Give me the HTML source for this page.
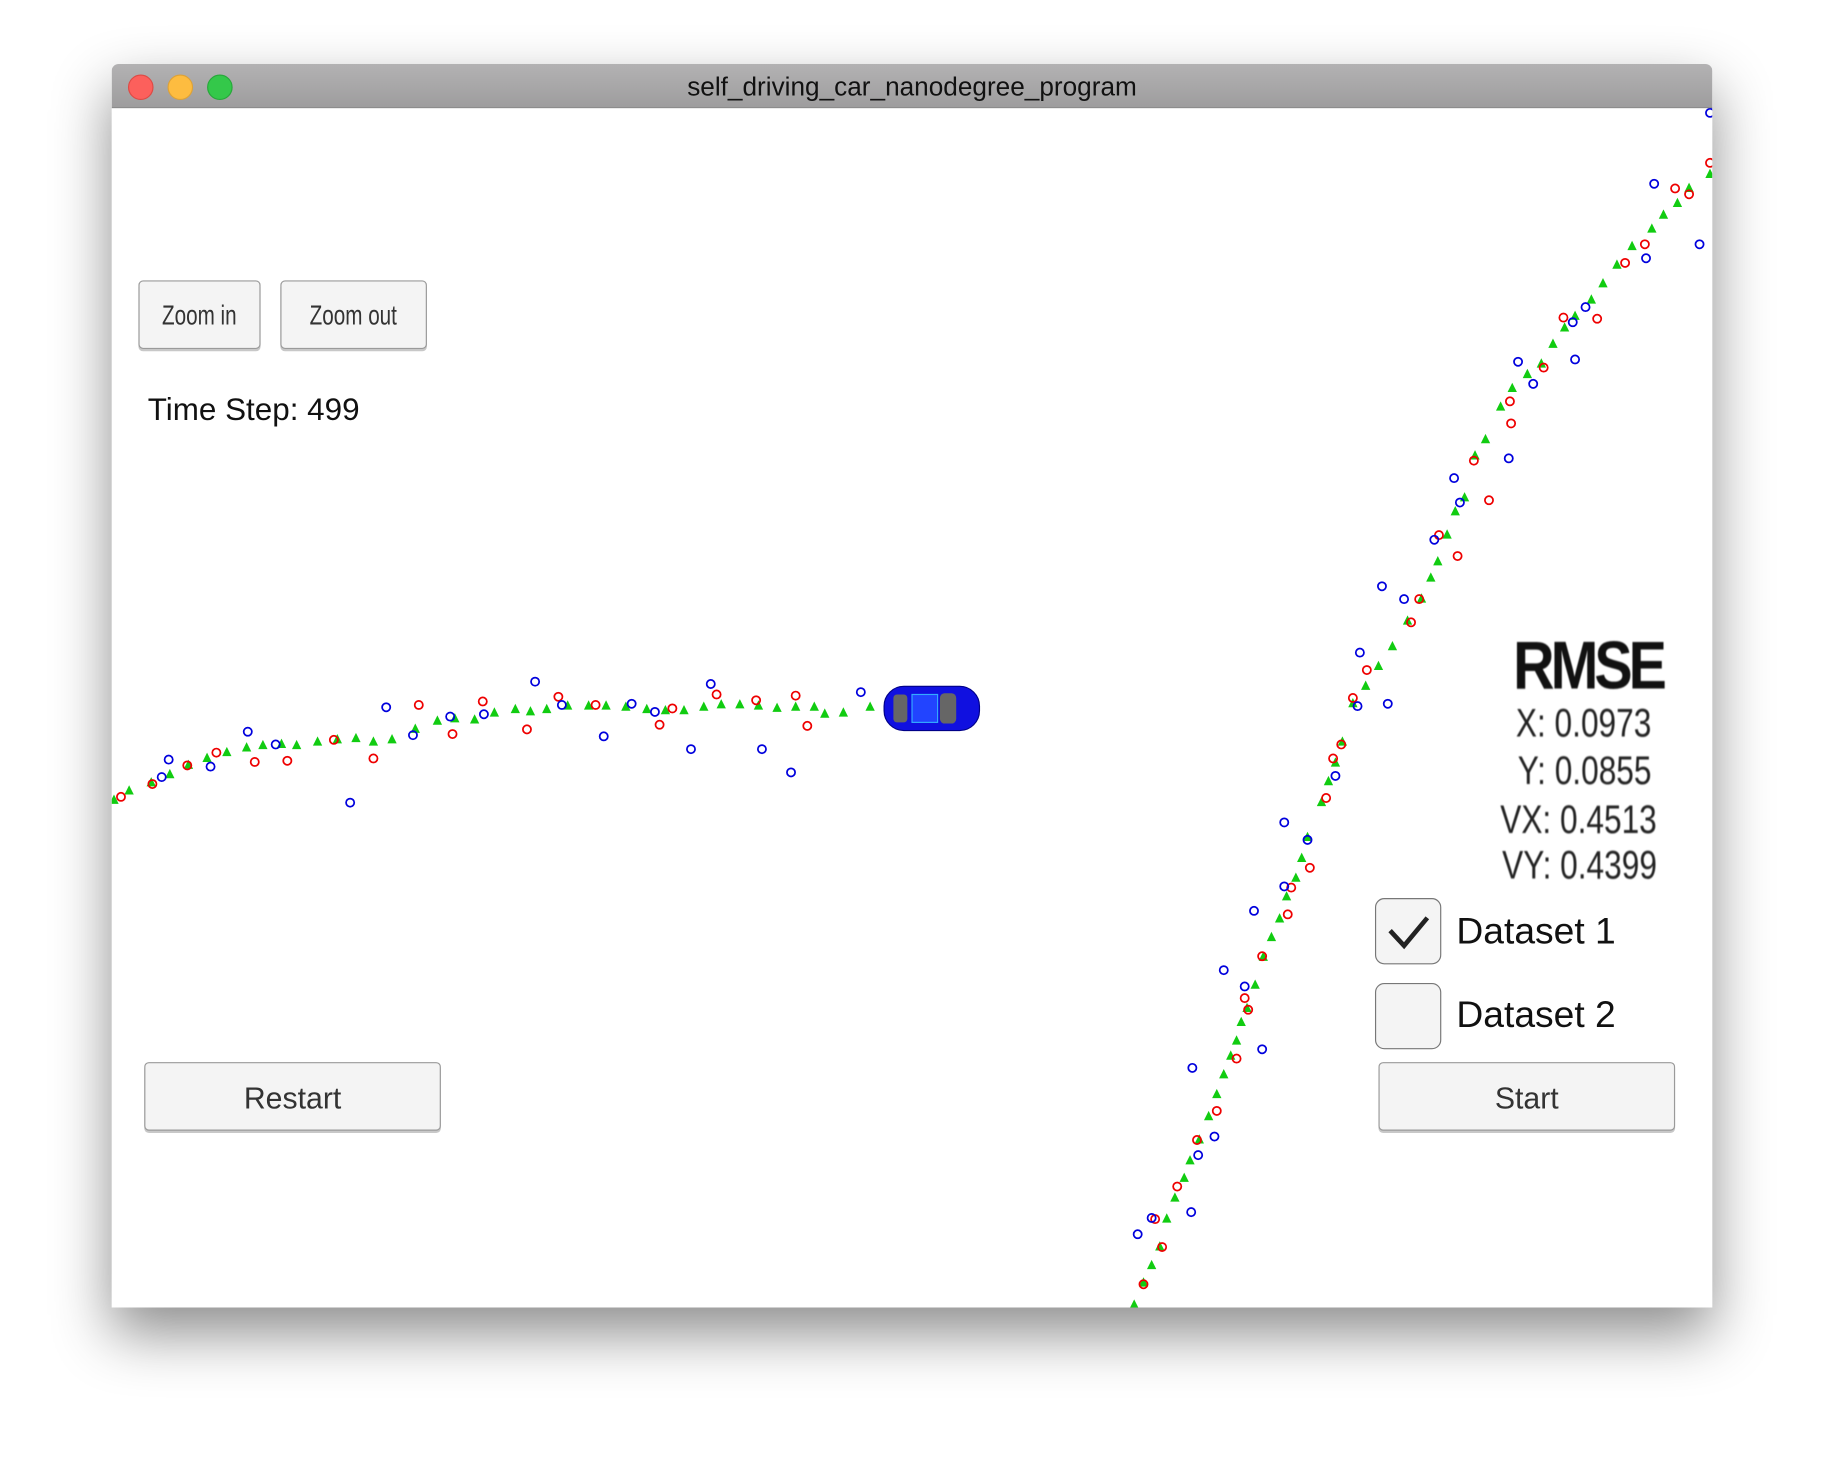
<!DOCTYPE html>
<html><head><meta charset="utf-8">
<style>
html,body{margin:0;padding:0;width:1824px;height:1468px;overflow:hidden;background:#fff;font-family:"Liberation Sans",sans-serif;}
#stage{position:absolute;left:0;top:0;width:1568px;height:1262px;transform:scale(1.16327);transform-origin:0 0;}
#win{position:absolute;left:96px;top:55px;width:1376px;height:1069px;background:#fff;border-radius:6px 6px 0 0;box-shadow:0 22px 50px rgba(0,0,0,0.45);overflow:hidden;}
#title{position:absolute;left:0;top:0;width:1376px;height:37px;background:linear-gradient(#b3b2b3,#9e9d9e);border-bottom:1px solid #8a8a8a;text-align:center;line-height:40px;font-size:22.5px;color:#111;}
.dot{position:absolute;top:9px;width:20px;height:20px;border-radius:50%;}
.btn{position:absolute;background:#f4f4f4;border:1.5px solid #9a9a9a;border-radius:4px;box-shadow:0 2px 0 #c8c8c8;text-align:center;color:#333;}
.cb{position:absolute;width:55px;height:55px;background:#f4f4f4;border:1.5px solid #777;border-radius:8px;}
.lbl{position:absolute;font-size:32px;color:#111;}
.rm{position:absolute;right:48px;color:#222;font-size:34px;transform:scaleX(0.8);transform-origin:right center;text-align:right;filter:blur(0.6px);}
svg{position:absolute;left:0;top:0;}
</style></head><body>
<div id="stage">
<div id="win">
<svg id="plot" width="1376" height="1069"></svg>
<div id="title">self_driving_car_nanodegree_program
<div class="dot" style="left:14px;background:#fc605c;border:1px solid #de4a45"></div>
<div class="dot" style="left:48px;background:#fdbc40;border:1px solid #dea236"></div>
<div class="dot" style="left:82px;background:#34c84a;border:1px solid #27a83a"></div>
</div>
<div class="btn" style="left:23px;top:186px;width:103px;height:57px;line-height:60px;font-size:24px;"><span style="display:inline-block;transform:scaleX(0.74)">Zoom in</span></div>
<div class="btn" style="left:145px;top:186px;width:124px;height:57px;line-height:60px;font-size:24px;"><span style="display:inline-block;transform:scaleX(0.74)">Zoom out</span></div>
<div style="position:absolute;left:31px;top:282px;font-size:27px;color:#111;">Time Step: 499</div>
<div class="btn" style="left:28px;top:858px;width:253px;height:57px;line-height:60px;font-size:26px;">Restart</div>
<div class="btn" style="left:1089px;top:858px;width:253px;height:57px;line-height:60px;font-size:26px;">Start</div>
<div class="cb" style="left:1086px;top:717px;">
<svg width="55" height="55"><polyline points="12,27 24,40 44,16" fill="none" stroke="#222" stroke-width="4"/></svg></div>
<div class="lbl" style="left:1156px;top:727px;">Dataset 1</div>
<div class="cb" style="left:1086px;top:790px;"></div>
<div class="lbl" style="left:1156px;top:799px;">Dataset 2</div>
<div class="rm" style="top:484px;font-size:58px;font-weight:bold;color:#111;letter-spacing:-4px;transform:scaleX(0.85);right:42px;">RMSE</div>
<div class="rm" style="top:548px;right:52px;">X: 0.0973</div>
<div class="rm" style="top:589px;right:52px;">Y: 0.0855</div>
<div class="rm" style="top:631px;right:48px;">VX: 0.4513</div>
<div class="rm" style="top:670px;right:48px;">VY: 0.4399</div>
</div>
</div>
<script>
const gtX=[98,111,130,146,162,178,195,212,226,242,255,273,290,306,321,337,357,376,391,408,425,443,456,470,488,506,521,538,556,572,588,605,620,636,652,668,684,700,709,725,748,
975,983,990,997,1003,1010,1018,1023,1031,1039,1046,1052,1058,1063,1067,1072,1079,1086,1093,1100,1106,1114,1119,1124,1136,1142,1148,1154,1163,1174,1185,1197,1210,1222,1230,1236,1244,1251,1259,1268,1277,1290,1300,1313,1325,1335,1345,1354,1368,1378,1390,1403,1420,1430,1442,1452,1470];
const gtY=[688,680,673,666,658,652,647,643,641,640,641,638,636,635,638,636,627,620,618,619,613,610,612,610,607,607,607,608,610,611,611,608,606,606,607,609,608,608,614,613,608,
1122,1103,1088,1072,1048,1030,1013,998,980,960,941,924,908,895,879,867,847,823,806,790,771,755,738,720,690,672,656,638,605,590,573,556,534,515,497,483,460,440,428,392,378,350,334,322,313,296,282,272,258,244,228,212,197,185,175,162,150];
const lidarX=[104,131,161,186,219,247,287,321,360,389,415,453,480,512,567,578,616,650,684,694,
983,993,999,1012,1029,1046,1063,1073,1070,1085,1107,1110,1126,1140,1146,1153,1163,1175,1213,1220,1237,1253,1267,1280,1298,1299,1327,1344,1373,1397,1414,1440,1452,1470];
const lidarY=[685,674,658,647,655,654,636,652,606,631,603,627,599,606,623,609,597,602,598,624,
1104,1048,1072,1020,980,955,910,868,858,822,786,763,746,686,652,640,600,576,535,515,460,478,396,430,345,364,316,273,274,226,210,162,167,140];
const radarX=[139,145,181,213,237,301,332,355,387,416,460,483,519,543,563,594,611,655,680,740,
978,990,1024,1030,1044,1025,1085,1052,1070,1078,1104,1104,1124,1148,1167,1193,1169,1188,1207,1233,1250,1255,1297,1305,1318,1354,1352,1363,1415,1422,1461,1470];
const radarY=[668,653,659,629,640,690,608,632,616,614,586,606,633,605,612,644,588,644,664,595,
1061,1047,1042,993,977,918,902,834,848,783,762,707,722,667,607,605,561,504,515,464,411,432,394,311,330,309,277,264,222,158,210,97];
const carPos=[800,609];
const sx=v=>v-96, sy=v=>v-55;
const NS='http://www.w3.org/2000/svg';
const svg=document.getElementById('plot');
function mk(t,a){const e=document.createElementNS(NS,t);for(const k in a)e.setAttribute(k,a[k]);svg.appendChild(e);return e;}
for(let i=0;i<gtX.length;i++){const x=sx(gtX[i]),y=sy(gtY[i]);
 const e=mk('polygon',{points:`${x-4},${y+3} ${x+4},${y+3} ${x},${y-5}`,fill:'#11cc11'});
 
 }
for(let i=0;i<lidarX.length;i++){
 const e=mk('circle',{cx:sx(lidarX[i]),cy:sy(lidarY[i]),r:3.5,fill:'none',stroke:'#ee0000','stroke-width':1.5});
 
 }
for(let i=0;i<radarX.length;i++){
 const e=mk('circle',{cx:sx(radarX[i]),cy:sy(radarY[i]),r:3.5,fill:'none',stroke:'#0000dd','stroke-width':1.5});
 
 }
const g=document.createElementNS(NS,'g');


const cx=sx(carPos[0]),cy=sy(carPos[1]);
g.innerHTML=`<rect x="${cx-40}" y="${cy-19}" width="82" height="38" rx="17" fill="#1010e0" stroke="#000088"/>
<rect x="${cx-32}" y="${cy-12}" width="12" height="24" rx="3" fill="#666"/>
<rect x="${cx-16}" y="${cy-12}" width="22" height="24" fill="#2244ff" stroke="#33aaff"/>
<rect x="${cx+8}" y="${cy-13}" width="14" height="26" rx="4" fill="#666"/>`;
svg.appendChild(g);
</script>
</body></html>
